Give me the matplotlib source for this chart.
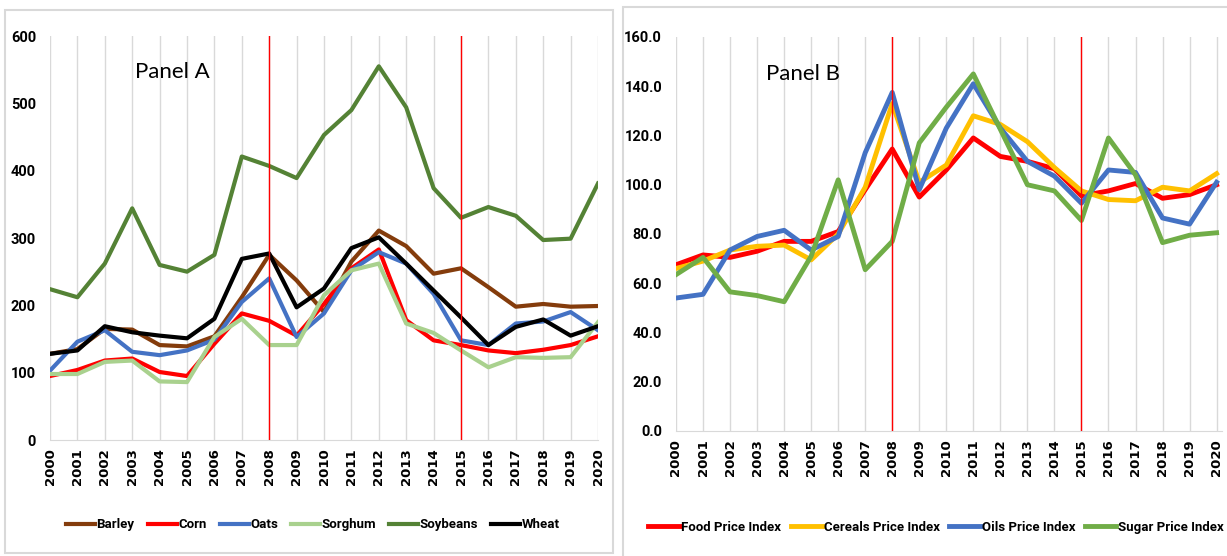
import matplotlib.pyplot as plt
from matplotlib.patches import Rectangle
import numpy as np

# Anos
years = np.arange(2000, 2021)

# Painel A - precos dos graos
barley = [128, 135, 165, 164, 141, 139, 154, 212, 275, 237, 190, 265, 311, 288, 247, 255, 227, 198, 202, 198, 199]
corn = [95, 104, 118, 121, 101, 95, 143, 188, 177, 155, 202, 255, 283, 178, 148, 141, 133, 129, 134, 141, 154]
oats = [103, 146, 163, 131, 126, 133, 149, 205, 240, 153, 188, 252, 279, 262, 217, 148, 141, 173, 176, 190, 163]
sorghum = [98, 98, 116, 118, 87, 86, 153, 180, 141, 141, 215, 252, 262, 173, 159, 133, 108, 123, 122, 123, 175]
soybeans = [224, 212, 262, 344, 260, 250, 275, 421, 407, 389, 453, 490, 555, 494, 374, 330, 346, 333, 297, 299, 381]
wheat = [128, 133, 169, 160, 155, 151, 180, 269, 277, 197, 225, 285, 301, 262, 222, 182, 141, 168, 179, 155, 169]

# Painel B - indices de precos
food = [67.5, 71.5, 70.5, 73.0, 77.0, 77.0, 81.0, 98.0, 114.5, 95.0, 106.0, 119.0, 111.5, 109.5, 106.5, 95.5, 97.5, 100.5, 94.5, 96.0, 100.0]
cereals = [66.0, 69.0, 73.5, 75.0, 75.5, 69.5, 80.0, 99.0, 133.0, 101.0, 108.0, 128.0, 124.5, 117.5, 107.0, 97.5, 94.0, 93.5, 99.0, 97.5, 104.5]
oils = [54.0, 55.5, 73.5, 79.0, 81.5, 73.5, 79.0, 113.0, 137.5, 98.0, 123.0, 141.0, 123.0, 109.5, 103.5, 92.5, 106.0, 105.0, 86.5, 84.0, 101.0]
sugar = [63.5, 70.5, 56.5, 55.0, 52.5, 71.0, 102.0, 65.5, 77.0, 117.0, 131.5, 145.0, 122.5, 100.0, 97.5, 85.5, 119.0, 104.0, 76.5, 79.5, 80.5]

crises = [2008, 2015]

W, H = 1227, 556
fig = plt.figure(figsize=(W / 100, H / 100), dpi=100)
plt.rcParams['font.family'] = ['Lato', 'DejaVu Sans']

def px(x0, y0, x1, y1):
    return [x0 / W, 1 - y1 / H, (x1 - x0) / W, (y1 - y0) / H]

# molduras das duas areas de grafico
for (x0, y0, x1, y1) in [(5, 10, 613, 553), (623, 7, 1240, 570)]:
    fig.patches.append(Rectangle((x0 / W, 1 - y1 / H), (x1 - x0) / W, (y1 - y0) / H,
                                 transform=fig.transFigure, fill=False,
                                 edgecolor='#d9d9d9', lw=1.5))

axA = fig.add_axes(px(50, 36, 598, 440))
axB = fig.add_axes(px(676, 37, 1222, 431))

def estilo(ax):
    ax.set_xlim(2000, 2020)
    ax.set_xticks(years)
    ax.set_xticklabels([str(y) for y in years], rotation=90, fontsize=9.5,
                       fontweight='bold', family=['DejaVu Sans'])
    ax.grid(axis='x', color='#d9d9d9', lw=1)
    ax.set_axisbelow(True)
    for s in ['top', 'right', 'left']:
        ax.spines[s].set_visible(False)
    ax.spines['bottom'].set_color('#d9d9d9')
    ax.tick_params(length=0, pad=6)
    for c in crises:
        ax.axvline(c, color='red', lw=1, zorder=5)

leg_font = {'family': 'Roboto', 'weight': 'bold', 'size': 9.5}

# Painel A
seriesA = [(barley, 'Barley', '#843c0c'), (corn, 'Corn', '#ff0000'),
           (oats, 'Oats', '#4472c4'), (sorghum, 'Sorghum', '#a9d18e'),
           (soybeans, 'Soybeans', '#548235'), (wheat, 'Wheat', '#000000')]
for vals, nome, cor in seriesA:
    axA.plot(years, vals, color=cor, lw=3, label=nome)
estilo(axA)
axA.set_ylim(0, 600)
axA.set_yticks(np.arange(0, 601, 100))
axA.set_yticklabels([str(v) for v in range(0, 601, 100)], fontsize=10.5,
                    fontweight='bold', family=['Roboto'])
axA.tick_params(axis='y', pad=10)
axA.text(0.155, 0.91, 'Panel A', transform=axA.transAxes, fontsize=16, va='center')
axA.legend(loc='center', bbox_to_anchor=(0.48, -0.21), ncol=6, frameon=False,
           handlelength=2.2, handletextpad=0.1, columnspacing=1.0, prop=leg_font)

# Painel B
seriesB = [(food, 'Food Price Index', '#ff0000'), (cereals, 'Cereals Price Index', '#ffc000'),
           (oils, 'Oils Price Index', '#4472c4'), (sugar, 'Sugar Price Index', '#70ad47')]
for vals, nome, cor in seriesB:
    axB.plot(years, vals, color=cor, lw=3.5, label=nome)
estilo(axB)
axB.set_xlim(2000, 2020.2)
axB.set_ylim(0, 160)
axB.set_yticks(np.arange(0, 161, 20))
axB.set_yticklabels([f'{v:.1f}' for v in range(0, 161, 20)], fontsize=10.5,
                    fontweight='bold', family=['Roboto'])
axB.tick_params(axis='y', pad=10)
axB.text(0.165, 0.905, 'Panel B', transform=axB.transAxes, fontsize=16, va='center')
axB.legend(loc='center', bbox_to_anchor=(0.476, -0.245), ncol=4, frameon=False,
           handlelength=2.4, handletextpad=0.1, columnspacing=0.7, prop=leg_font)

fig.savefig('out.png', dpi=100)
